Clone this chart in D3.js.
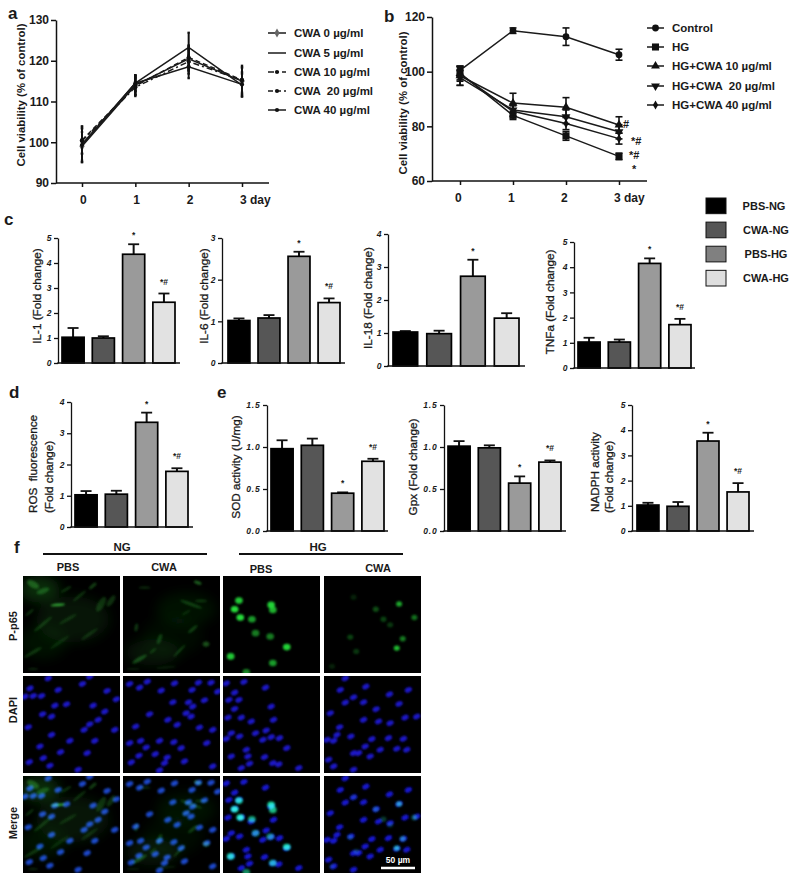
<!DOCTYPE html>
<html><head><meta charset="utf-8">
<script src="https://cdn.jsdelivr.net/npm/d3@7"></script>
<style>
html,body{margin:0;padding:0;background:#fff}
svg{display:block}
text{font-family:"Liberation Sans",Arial,sans-serif;fill:#1a1a1a}
</style></head><body>
<svg id="c" width="800" height="874"></svg>
<script>
// ---------- DATA ----------
const days = [0,1,2,3];
const dayLabels = ["0","1","2","3 day"];
const groups = ["PBS-NG","CWA-NG","PBS-HG","CWA-HG"];

const doseNamesA = ["CWA 0 µg/ml","CWA 5 µg/ml","CWA 10 µg/ml","CWA  20 µg/ml","CWA 40 µg/ml"];
const cwa0 = [99,114,120.5,115];    const cwa0Err = [3.5,2.3,3,3.5];
const cwa5 = [99.5,114.5,123.3,114];const cwa5Err = [4.4,2,3.6,2.8];
const cwa10 = [100.3,113.5,119.8,115.2]; const cwa10Err = [3,2.2,3,3];
const cwa20 = [100.5,113.8,120.8,115.3]; const cwa20Err = [3.4,2.2,3,3.5];
const cwa40 = [99.3,114.5,118.5,114.2];  const cwa40Err = [4.2,2,2.8,3];

const namesB = ["Control","HG","HG+CWA 10 µg/ml","HG+CWA  20 µg/ml","HG+CWA 40 µg/ml"];
const ctrl = [100.5,115,112.8,106.2]; const ctrlErr = [1.5,1,3.2,2];
const hg = [99.5,84,76.5,69];         const hgErr = [2.5,1.5,1.6,1.2];
const hg10 = [98.5,88.5,87,80.5];     const hg10Err = [3.5,3.6,3.5,3];
const hg20 = [97.8,86,83.5,78];       const hg20Err = [2.8,2.2,2.5,2.6];
const hg40 = [99,85.5,81,75.5];       const hg40Err = [2.5,2,2.2,2];
const annB = ["#","*#","*#","*"];
const annBDay3 = [80.9,74.7,69.5,64.4];

const il1 = [1.03,1.0,4.35,2.43];   const il1Top = [1.4,1.07,4.75,2.78];
const il6 = [1.02,1.08,2.56,1.45];  const il6Top = [1.07,1.15,2.67,1.55];
const il18 = [1.03,0.98,2.72,1.45]; const il18Top = [1.06,1.07,3.22,1.6];
const tnf = [1.03,1.03,4.15,1.72];  const tnfTop = [1.2,1.13,4.35,1.95];
const ros = [1.03,1.05,3.35,1.78];  const rosTop = [1.15,1.16,3.66,1.88];
const sod = [0.98,1.02,0.45,0.83];  const sodTop = [1.08,1.1,0.46,0.86];
const gpx = [1.01,0.99,0.57,0.82];  const gpxTop = [1.07,1.02,0.65,0.84];
const nadph = [1.03,0.98,3.57,1.55];const nadphTop = [1.12,1.15,3.9,1.9];
const marksFull = ["","","*","*#"];
const marksIL18 = ["","","*",""];

// micrograph field coordinates (0-292 across one field)
const nucNGPBS = [[76,7],[201,2],[21,37],[56,60],[31,60],[106,42],[179,24],[253,45],[281,70],[96,89],[131,85],[211,89],[59,115],[86,122],[246,107],[16,154],[86,177],[226,132],[201,145],[184,162],[276,162],[141,195],[216,195],[51,212],[113,229],[193,232],[19,259],[61,247],[81,270],[166,282],[6,62]];
const nucNGCWA = [[20,24],[50,35],[73,17],[155,22],[227,20],[265,20],[115,44],[208,42],[285,47],[150,79],[197,79],[245,73],[210,92],[80,115],[190,112],[205,122],[135,132],[38,152],[163,147],[230,155],[270,162],[20,202],[53,195],[110,195],[153,199],[252,202],[70,215],[175,217],[25,260],[48,240],[97,235],[133,245],[185,257],[125,262],[270,272],[110,284]];
const nucHGPBS = [[10,22],[63,18],[128,35],[18,72],[35,50],[48,72],[35,99],[15,125],[145,92],[55,125],[85,137],[152,132],[25,172],[10,189],[50,182],[98,172],[130,164],[120,192],[145,184],[170,187],[70,222],[192,217],[25,242],[75,242],[125,244],[150,262],[168,266],[228,277],[55,277],[80,264]];
const nucHGCWA = [[64,7],[49,42],[126,32],[89,64],[197,55],[254,42],[64,80],[119,79],[226,84],[157,100],[19,112],[119,132],[199,142],[47,154],[164,137],[244,125],[279,122],[39,177],[9,192],[29,195],[81,182],[144,190],[194,187],[239,189],[124,212],[219,219],[249,222],[89,232],[104,232],[169,222],[14,252],[29,272],[139,242],[89,282]];
// [x, y, strength]
const p65HGPBS = [[48,74,.9],[35,100,1],[145,87,.95],[150,102,.8],[52,125,1],[87,130,.7],[98,172,.55],[142,182,.55],[192,214,.95],[23,242,.9],[150,262,.7],[70,290,.6]];
const p65HGCWA = [[226,84,.75],[156,100,.35],[272,125,.5],[179,130,.3],[237,189,.55],[219,217,.85],[199,147,.25],[97,227,.25],[79,184,.3],[24,272,.15],[89,64,.15]];
// [x, y, rx, ry, angle, strength]
const hazeNGPBS = [[50,40,60,40,0,.3],[150,130,110,70,0,.15],[60,200,70,50,0,.12]];
const hazeNGCWA = [[190,100,90,50,0,.12],[90,230,80,40,0,.15],[150,180,90,60,0,.08]];
const strandNGPBS = [[105,87,22,4,-5,1],[30,25,20,10,30,.5],[60,45,20,8,-20,.45],[210,30,14,5,-40,.4],[170,60,25,4,-40,.3],[135,130,30,5,-30,.25],[60,145,35,5,-40,.3],[30,230,30,5,-30,.3],[235,85,10,25,30,.3],[265,75,8,20,35,.3],[200,175,30,5,-35,.25],[110,200,35,5,-35,.2],[20,110,15,4,-40,.3],[130,40,18,4,-30,.3],[30,280,15,3,0,.25]];
const strandNGCWA = [[225,20,12,5,20,.6],[65,35,18,4,0,.25],[205,85,35,5,20,.35],[235,75,18,4,0,.3],[40,155,5,12,10,.35],[110,190,6,16,20,.35],[210,160,18,5,-40,.35],[250,205,10,8,0,.5],[50,250,25,6,-30,.45],[90,225,12,4,-40,.3],[170,225,25,3,-45,.4],[30,280,20,4,0,.15],[130,275,30,4,-5,.15],[190,110,15,4,-30,.2]];
const colNames = ["PBS","CWA","PBS","CWA"];
const rowNames = ["P-p65","DAPI","Merge"];

// ---------- HELPERS ----------
const svg = d3.select("#c");
const BOLD = "bold";
function txt(x,y,s,size,opt={}){
  const t = svg.append("text").attr("x",x).attr("y",y).text(s)
    .attr("font-size",size).attr("font-weight",opt.w||"normal")
    .attr("text-anchor",opt.a||"start").attr("xml:space","preserve").style("white-space","pre");
  if(opt.i) t.attr("font-style","italic");
  return t;
}
function vtxt(x,cy,s,size,w){
  const t = svg.append("text").attr("transform",`translate(${x},${cy}) rotate(-90)`)
    .attr("text-anchor","middle").attr("font-size",size).attr("font-weight",w||"normal").text(s).style("white-space","pre");
  if(!w) t.attr("stroke","#1a1a1a").attr("stroke-width",.3);
  return t;
}
function styleAxis(g,sw){
  g.selectAll("path").attr("stroke","#111").attr("stroke-width",sw);
  g.selectAll("line").attr("stroke","#111").attr("stroke-width",sw);
}
const symbols = {
  circle:d3.symbol(d3.symbolCircle,36), square:d3.symbol(d3.symbolSquare,50),
  up:d3.symbol(d3.symbolTriangle,34), diamond:d3.symbol(d3.symbolDiamond,24),
  dot:d3.symbol(d3.symbolCircle,14)
};
function lineChart(o){
  const x = d3.scalePoint().domain(days).range([o.x0,o.x1]);
  const y = d3.scaleLinear().domain(o.dom).range([o.yb,o.yt]);
  const gy = svg.append("g").attr("transform",`translate(${o.ax},0)`)
    .call(d3.axisLeft(y).tickValues(o.ticks).tickSize(5).tickSizeOuter(0).tickPadding(2));
  styleAxis(gy,1.5);
  gy.selectAll("text").attr("font-size",12).attr("font-weight",BOLD).attr("font-family","Liberation Sans").attr("fill","#1a1a1a");
  const gx = svg.append("g").attr("transform",`translate(0,${o.yb})`)
    .call(d3.axisBottom(x).tickSize(4).tickSizeOuter(0).tickFormat(""));
  gx.select("path").attr("d",`M${o.ax},0H${o.axEnd}`);
  styleAxis(gx,1.5);
  days.forEach((d,i)=>txt(x(d)+o.labDx,o.yb+o.labDy+4,dayLabels[i],12,{w:BOLD}));
  const line = d3.line().x((_,i)=>x(days[i])).y(v=>y(v));
  o.series.forEach(s=>{
    svg.append("path").attr("d",line(s.v)).attr("fill","none").attr("stroke","#1a1a1a")
      .attr("stroke-width",1.5).attr("stroke-dasharray",s.dash||null);
    s.v.forEach((v,i)=>{
      const g = svg.append("g").attr("stroke","#111").attr("stroke-width",o.ew);
      g.append("line").attr("x1",x(days[i])).attr("x2",x(days[i])).attr("y1",y(v-s.e[i])).attr("y2",y(v+s.e[i]));
      [-1,1].forEach(k=>g.append("line").attr("x1",x(days[i])-o.cap).attr("x2",x(days[i])+o.cap)
        .attr("y1",y(v+k*s.e[i])).attr("y2",y(v+k*s.e[i])));
      if(s.sym) svg.append("path").attr("d",s.sym()).attr("fill",s.col||"#111")
        .attr("transform",`translate(${x(days[i])},${y(v)})${s.rot?` rotate(${s.rot})`:""}`);
    });
  });
  o.series.forEach((s,i)=>{
    const ly = o.legY(i);
    svg.append("line").attr("x1",o.legX).attr("x2",o.legX+o.legW).attr("y1",ly).attr("y2",ly)
      .attr("stroke","#1a1a1a").attr("stroke-width",1.5).attr("stroke-dasharray",s.dash||null);
    if(s.sym) svg.append("path").attr("d",s.sym()).attr("fill",s.col||"#111")
      .attr("transform",`translate(${o.legX+o.legW/2},${ly})${s.rot?` rotate(${s.rot})`:""}`);
    txt(o.legX+o.legW+o.legGap,ly+4,o.names[i],11.5,{w:BOLD});
  });
  return {x,y};
}
const barFills = ["#000000","#565656","#9a9a9a","#e2e2e2"];
function barChart(o){
  const y = d3.scaleLinear().domain([0,o.max]).range([o.yb,o.yt]);
  const x = d3.scaleBand().domain(groups).range([o.b0,o.b1]).paddingInner(.27);
  const gy = svg.append("g").attr("transform",`translate(${o.ax},0)`)
    .call(d3.axisLeft(y).tickValues(o.ticks).tickSize(4).tickSizeOuter(0).tickPadding(2.5).tickFormat(d3.format(o.fmt||"d")));
  styleAxis(gy,1.3);
  gy.selectAll("text").attr("font-size",8.5).attr("font-weight",BOLD).attr("font-style","italic")
    .attr("font-family","Liberation Sans").attr("fill","#1a1a1a").style("letter-spacing",o.fmt?"0.8px":null);
  groups.forEach((g,i)=>{
    const cx = x(g)+x.bandwidth()/2;
    svg.append("line").attr("x1",cx).attr("x2",cx).attr("y1",y(o.v[i])).attr("y2",y(o.top[i])).attr("stroke","#111").attr("stroke-width",2);
    svg.append("line").attr("x1",cx-5.5).attr("x2",cx+5.5).attr("y1",y(o.top[i])).attr("y2",y(o.top[i])).attr("stroke","#111").attr("stroke-width",1.8);
    svg.append("rect").attr("x",x(g)).attr("y",y(o.v[i])).attr("width",x.bandwidth()).attr("height",y(0)-y(o.v[i]))
      .attr("fill",barFills[i]).attr("stroke","#000").attr("stroke-width",1.7);
    if(o.marks[i]) txt(cx,y(o.top[i])-(o.marks[i]=="*"?6:9),o.marks[i],8.5,{a:"middle"}).attr("font-weight",BOLD);
  });
  svg.append("line").attr("x1",o.ax-.7).attr("x2",o.end).attr("y1",y(0)).attr("y2",y(0)).attr("stroke","#111").attr("stroke-width",1.5);
}

// ---------- PANEL LETTERS ----------
[["a",8,19],["b",384,22],["c",4,225],["d",9,398],["e",217,398],["f",14,553]].forEach(d=>txt(d[1],d[2],d[0],17,{w:BOLD}));

// ---------- a ----------
vtxt(25,95,"Cell viability (% of control)",11.4,BOLD);
lineChart({x0:82,x1:242,ax:56,axEnd:269,yb:183,yt:20,dom:[90,130],ticks:[90,100,110,120,130],ew:2,cap:1.2,labDx:-2,labDy:17,
  names:doseNamesA,legX:268,legW:18,legGap:8,legY:i=>[33,53,72,91,110][i],
  series:[
    {v:cwa0,e:cwa0Err,sym:symbols.diamond,col:"#666"},
    {v:cwa5,e:cwa5Err},
    {v:cwa10,e:cwa10Err,dash:"6 3 2 3",sym:symbols.dot},
    {v:cwa20,e:cwa20Err,dash:"5 3",sym:symbols.dot},
    {v:cwa40,e:cwa40Err,sym:symbols.dot}
  ]});

// ---------- b ----------
vtxt(407,103,"Cell viability (% of control)",11.4,BOLD);
const bScales = lineChart({x0:460,x1:619,ax:432,axEnd:647,yb:181,yt:17,dom:[60,120],ticks:[60,80,100,120],ew:1.6,cap:3.5,labDx:-5,labDy:17,
  names:namesB,legX:647,legW:17,legGap:8,legY:i=>[28,47,66,86,105][i],
  series:[
    {v:ctrl,e:ctrlErr,sym:symbols.circle},
    {v:hg,e:hgErr,sym:symbols.square},
    {v:hg10,e:hg10Err,sym:symbols.up},
    {v:hg20,e:hg20Err,sym:symbols.up,rot:180},
    {v:hg40,e:hg40Err,sym:symbols.diamond}
  ]});
annB.forEach((m,i)=>txt(bScales.x(3)+[4,12,10,13][i],bScales.y(annBDay3[i])+4,m,11,{w:BOLD}));

// ---------- c ----------
barChart({ax:58,end:180,b0:62,b1:175,yb:363,yt:238,max:5,ticks:[0,1,2,3,4,5],v:il1,top:il1Top,marks:marksFull});
vtxt(41,296,"IL-1 (Fold change)",11.7);
barChart({ax:222,end:345,b0:228,b1:340,yb:363,yt:238,max:3,ticks:[0,1,2,3],v:il6,top:il6Top,marks:marksFull});
vtxt(208,296,"IL-6 (Fold change)",11.7);
barChart({ax:388,end:525,b0:393,b1:519,yb:366,yt:234,max:4,ticks:[0,1,2,3,4],v:il18,top:il18Top,marks:marksIL18});
vtxt(372,298,"IL-18 (Fold change)",11.7);
barChart({ax:574,end:695,b0:578,b1:691,yb:368,yt:242,max:5,ticks:[0,1,2,3,4,5],v:tnf,top:tnfTop,marks:marksFull});
vtxt(554,302,"TNFa (Fold change)",11.7);

// legend c
const legFills = ["#000000","#565656","#808080","#dedede"];
const legBox = d3.scaleBand().domain(groups).range([198,286]).paddingInner(.35);
groups.forEach((g,i)=>{
  svg.append("rect").attr("x",706).attr("y",legBox(g)).attr("width",20).attr("height",legBox.bandwidth())
    .attr("fill",legFills[i]).attr("stroke","#111").attr("stroke-width",1);
  txt([764,766,766,766][i],legBox(g)+legBox.bandwidth()/2+4,g,11,{w:BOLD,a:"middle"});
});

// ---------- d / e ----------
barChart({ax:71,end:193,b0:75,b1:188,yb:527,yt:402,max:4,ticks:[0,1,2,3,4],v:ros,top:rosTop,marks:marksFull});
vtxt(37,464,"ROS  fluorescence",11.7); vtxt(53,477,"(Fold change)",11.7);
barChart({ax:267,end:388,b0:271,b1:384,yb:531,yt:405,max:1.5,ticks:[0,.5,1,1.5],fmt:".1f",v:sod,top:sodTop,marks:marksFull});
vtxt(240,467,"SOD activity (U/mg)",11.7);
barChart({ax:444,end:566,b0:448,b1:561,yb:531,yt:405,max:1.5,ticks:[0,.5,1,1.5],fmt:".1f",v:gpx,top:gpxTop,marks:marksFull});
vtxt(417,467,"Gpx (Fold change)",11.7);
barChart({ax:632,end:754,b0:637,b1:749,yb:531,yt:405,max:5,ticks:[0,1,2,3,4,5],v:nadph,top:nadphTop,marks:marksFull});
vtxt(599,472,"NADPH activity",11.7); vtxt(613,477,"(Fold change)",11.7);

// ---------- f ----------
const defs = svg.append("defs");
[["b1",.8],["b2",1.1],["b4",6]].forEach(d=>defs.append("filter").attr("id",d[0])
  .attr("x","-50%").attr("y","-50%").attr("width","200%").attr("height","200%")
  .append("feGaussianBlur").attr("stdDeviation",d[1]));
const colX = [23,123,223,324], rowY = [576,676,776], fw = 97, fh = 97;
const field = d3.scaleLinear().domain([0,292]);
const nuclei = [nucNGPBS,nucNGCWA,nucHGPBS,nucHGCWA];
const p65 = [[],[],p65HGPBS,p65HGCWA];
const haze = [hazeNGPBS,hazeNGCWA,[],[]];
const strands = [strandNGPBS,strandNGCWA,[],[]];
const mergeBlue = ["#1a46c8","#1a46c8","#1414d0","#1414d0"];
const sx = field.copy().range([0,fw]);
function blob(sel,col,op){
  sel.attr("cx",d=>sx(d[0])).attr("cy",d=>sx(d[1])).attr("rx",d=>sx(d[2])).attr("ry",d=>sx(d[3]))
    .attr("transform",d=>`rotate(${d[4]} ${sx(d[0])} ${sx(d[1])})`)
    .attr("fill",col).attr("opacity",op);
}
function drawGreen(g,c,merge){
  g.append("g").attr("filter","url(#b4)").selectAll("ellipse").data(haze[c]).join("ellipse").call(blob,"#1f8f24",d=>d[5]);
  g.append("g").attr("filter","url(#b2)").selectAll("ellipse").data(strands[c]).join("ellipse").call(blob,"#2f9a30",d=>d[5]);
  g.append("g").attr("filter","url(#b1)").selectAll("ellipse").data(p65[c]).join("ellipse")
    .attr("cx",d=>sx(d[0])).attr("cy",d=>sx(d[1])).attr("rx",c==2?3.8:3).attr("ry",c==2?3.3:2.7)
    .attr("fill",merge&&c==2?"#20e8a0":(merge?"#20c090":"#25dc3a")).attr("opacity",d=>d[2]);
}
function drawBlue(g,c,col){
  g.append("g").attr("filter","url(#b1)").selectAll("ellipse").data(nuclei[c]).join("ellipse")
    .attr("cx",d=>sx(d[0])).attr("cy",d=>sx(d[1])).attr("rx",3.8).attr("ry",2.6)
    .attr("transform",d=>`rotate(-25 ${sx(d[0])} ${sx(d[1])})`).attr("fill",col);
}
rowY.forEach((ry,r)=>colX.forEach((cx,c)=>{
  const id = `clip${r}${c}`;
  defs.append("clipPath").attr("id",id).append("rect").attr("width",fw).attr("height",fh);
  const g = svg.append("g").attr("transform",`translate(${cx},${ry})`).attr("clip-path",`url(#${id})`).style("isolation","isolate");
  g.append("rect").attr("width",fw).attr("height",fh).attr("fill","#000");
  if(r==0) drawGreen(g,c,false);
  if(r==1) drawBlue(g,c,"#1c14c8");
  if(r==2){ drawBlue(g,c,mergeBlue[c]); const gg=g.append("g").style("mix-blend-mode","screen"); drawGreen(gg,c,true); }
}));
txt(122,551,"NG",11.5,{w:BOLD,a:"middle"});
txt(318,551,"HG",11.5,{w:BOLD,a:"middle"});
[[43,207],[239,403]].forEach(d=>svg.append("line").attr("x1",d[0]).attr("x2",d[1]).attr("y1",554).attr("y2",554).attr("stroke","#111").attr("stroke-width",2));
colNames.forEach((n,i)=>txt([68,164,261,378][i],[571,571,573,572][i],n,11,{w:BOLD,a:"middle"}));
rowNames.forEach((n,i)=>vtxt(17,[626,710,823][i],n,11,BOLD));
svg.append("line").attr("x1",381).attr("x2",415).attr("y1",868).attr("y2",868).attr("stroke","#fff").attr("stroke-width",2.5);
txt(398,863,"50 µm",8.5,{w:BOLD,a:"middle"}).style("fill","#fff");
</script>
</body></html>
